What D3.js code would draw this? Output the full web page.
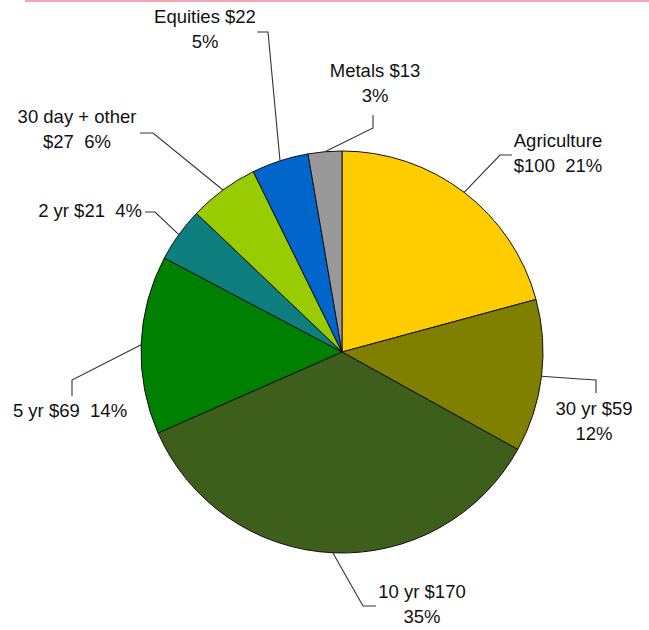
<!DOCTYPE html>
<html>
<head>
<meta charset="utf-8">
<script src="https://cdn.jsdelivr.net/npm/d3@7"></script>
<style>
  html, body { margin: 0; padding: 0; background: #fff; }
  svg { display: block; }
  text { font-family: "Liberation Sans", Arial, sans-serif; fill: #111; white-space: pre; }
</style>
</head>
<body>
<svg id="chart" width="649" height="630"></svg>
<script>
// ---- data ----
const categories = ["Agriculture", "30 yr", "10 yr", "5 yr", "2 yr", "30 day + other", "Equities", "Metals"];
const values     = [100, 59, 170, 69, 21, 27, 22, 13];
const percents   = ["21%", "12%", "35%", "14%", "4%", "6%", "5%", "3%"];
const labelLines = [
  ["Agriculture", "$100  21%"],
  ["30 yr $59", "12%"],
  ["10 yr $170", "35%"],
  ["5 yr $69  14%"],
  ["2 yr $21  4%"],
  ["30 day + other", "$27  6%"],
  ["Equities $22", "5%"],
  ["Metals $13", "3%"]
];
const colors = ["#FFCC00", "#808000", "#3E5E1C", "#008000", "#0E7E7E", "#99CC00", "#0066CC", "#999999"];

// ---- layout (positions of annotation text / leader elbows) ----
const cx = 342, cy = 352, R = 201;
const labelLayout = [
  { x: 558, y: 147, anchor: "middle", elbow: [[500, 155], [512, 155]] },
  { x: 594, y: 415, anchor: "middle", elbow: [[580, 379], [596, 380], [596, 393]] },
  { x: 422, y: 598, anchor: "middle", elbow: [[363, 606], [376, 606]] },
  { x: 70,  y: 417, anchor: "middle", elbow: [[72, 380], [72, 396]] },
  { x: 142, y: 217, anchor: "end",    elbow: [[155, 212], [145, 212]] },
  { x: 77,  y: 123, anchor: "middle", elbow: [[153, 133], [140, 133]] },
  { x: 205, y: 23,  anchor: "middle", elbow: [[268, 32], [257, 32]] },
  { x: 375, y: 77,  anchor: "middle", elbow: [[373, 128], [373, 115]] }
];
const lineGap = 25;
const fontSize = 18.5;

const svg = d3.select("#chart");

// top pink rule
svg.append("rect").attr("x", 25).attr("y", 0).attr("width", 624).attr("height", 2).attr("fill", "#F2A6AE");

const data = categories.map((c, i) => ({ name: c, value: values[i], pct: percents[i], lines: labelLines[i], color: colors[i], layout: labelLayout[i] }));

const pie = d3.pie().sort(null).value(d => d.value).startAngle(0).endAngle(2 * Math.PI);
const arcs = pie(data);
const arc = d3.arc().innerRadius(0).outerRadius(R);

const g = svg.append("g").attr("transform", `translate(${cx},${cy})`);
g.selectAll("path.slice")
  .data(arcs)
  .join("path")
  .attr("class", "slice")
  .attr("d", arc)
  .attr("fill", d => d.data.color)
  .attr("stroke", "#111")
  .attr("stroke-width", 1)
  .attr("stroke-linejoin", "round");

// leader lines
const line = d3.line();
svg.selectAll("path.leader")
  .data(arcs)
  .join("path")
  .attr("class", "leader")
  .attr("d", d => {
    const a = (d.startAngle + d.endAngle) / 2;
    const start = [cx + R * Math.sin(a), cy - R * Math.cos(a)];
    return line([start, ...d.data.layout.elbow]);
  })
  .attr("fill", "none")
  .attr("stroke", "#333")
  .attr("stroke-width", 1.1);

// labels
const labels = svg.selectAll("text.lbl")
  .data(arcs)
  .join("text")
  .attr("class", "lbl")
  .attr("xml:space", "preserve")
  .attr("font-size", fontSize)
  .attr("text-anchor", d => d.data.layout.anchor);
labels.selectAll("tspan")
  .data(d => d.data.lines.map((t, i) => ({ t, i, L: d.data.layout })))
  .join("tspan")
  .attr("x", d => d.L.x)
  .attr("y", d => d.L.y + d.i * lineGap)
  .text(d => d.t);
</script>
</body>
</html>
